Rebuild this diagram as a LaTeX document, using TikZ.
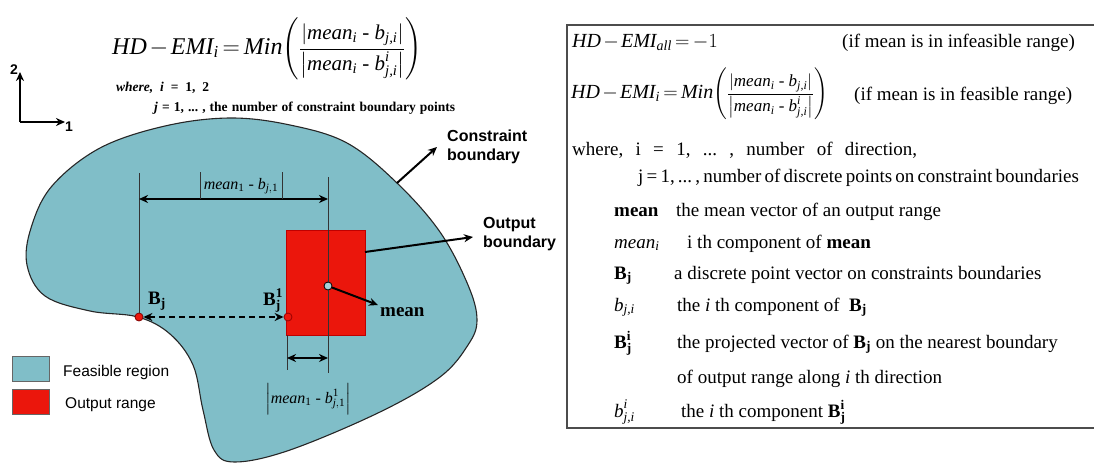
\documentclass[tikz,border=0pt]{standalone}
\usepackage{fix-cm}
\usepackage{amsmath}
\usepackage{fontspec}
\setmainfont{Liberation Serif}
\setsansfont{Liberation Sans}
\usetikzlibrary{arrows.meta}
\definecolor{feas}{RGB}{128,190,200}
\definecolor{outr}{RGB}{235,22,12}
\newcommand{\mi}[1]{\textit{#1}}
\newcommand{\hy}{\text{ - }}
\newcommand{\tightmath}{\medmuskip=2mu\thickmuskip=3mu\relax}
\frenchspacing
\tikzset{
  region/.style={fill=feas, draw=black!85, line width=1.1pt},
  dimline/.style={line width=0.6pt, draw=black!80},
  bigarrow/.style={line width=2pt, -{Stealth[length=9pt,width=8pt]}},
  dblarrow/.style={line width=2pt, {Stealth[length=9pt,width=8pt]}-{Stealth[length=9pt,width=8pt]}},
  sanslbl/.style={font=\sffamily\bfseries\fontsize{16}{19}\selectfont, align=left, inner sep=0pt, anchor=north west},
  legtxt/.style={font=\sffamily\fontsize{15.5}{18}\selectfont, anchor=west, inner sep=0pt},
  rtxt/.style={font=\fontsize{19}{22}\selectfont, anchor=base west, inner sep=0pt},
  dot/.style={circle, minimum size=8pt, inner sep=0pt, line width=0.8pt},
  boxline/.style={line width=1.6pt, draw=black!70},
}
\begin{document}
\begin{tikzpicture}[x=1pt,y=-1pt]
\useasboundingbox (0,0) rectangle (1094,463);
% ---------- feasible region ----------
\draw[region] plot[smooth cycle, tension=0.6] coordinates {
 (138,317) (90,311) (45,296) (27,265) (31,228) (52,186) (100,148) (165,126)
 (230,118) (290,125) (347,143) (397,183) (440,232) (468,285) (477,320)
 (468,345) (440,377) (380,412) (290,450) (235,462) (214,450) (203,410)
 (193,365) (170,334)};
% output range rectangle
\node[fill=outr, draw=red!75!black, line width=0.4pt, minimum width=79pt, minimum height=105pt, inner sep=0pt] (rect) at (325.5,282.5) {};
% dots
\node[dot, fill=outr, draw=red!50!black] (bj) at (139,317) {};
\node[dot, fill=outr, draw=red!60!black] (bj1) at (288,317) {};
\node[dot, fill=feas!70!white, draw=black] (mean) at (328,286) {};
% vertical dimension lines
\coordinate (v1top) at (139,173);
\coordinate (v2top) at (328,177);
\coordinate (v2bot) at (328,373);
\coordinate (v3top) at (287,335);
\coordinate (v3bot) at (287,370);
\draw[dimline] (v1top) -- (bj.north);
\draw[dimline] (v2top) -- (mean.north);
\draw[dimline] (mean.south) -- (v2bot);
\draw[dimline] (v3top) -- (v3bot);
% top dimension arrow
\coordinate (a1l) at (139,199);
\coordinate (a1r) at (328,199);
\draw[dblarrow] (a1l) -- (a1r);
\coordinate (b1t) at (200,172);
\coordinate (b1b) at (200,199);
\coordinate (b2t) at (282,172);
\coordinate (b2b) at (282,199);
\draw[dimline] (b1t) -- (b1b);
\draw[dimline] (b2t) -- (b2b);
\node[font=\fontsize{16}{19}\selectfont, inner sep=0pt] (lab1) at (241,186) {$\mi{mean}_{\textrm{1}}\hy\mi{b}_{\mi{j},\textrm{1}}$};
% bottom dimension arrow
\coordinate (a2l) at (287,358);
\coordinate (a2r) at (328,358);
\draw[dblarrow] (a2l) -- (a2r);
\node[font=\fontsize{16}{19}\selectfont, inner sep=0pt] (lab2) at (308,399) {$\left|\mi{mean}_{\textrm{1}}\hy\mi{b}^{\textrm{1}}_{\mi{j},\textrm{1}}\vphantom{\Big|}\right|$};
% dashed arrow between boundary points
\draw[dblarrow, dash pattern=on 6pt off 4pt] (bj) -- (bj1);
\node[inner sep=0pt, font=\fontsize{19}{22}\selectfont] (bjl) at (157,301) {$\textbf{B}_{\textbf{j}}$};
\node[inner sep=0pt, font=\fontsize{19}{22}\selectfont] (bj1l) at (273,301) {$\textbf{B}_{\textbf{j}}^{\textbf{1}}$};
% mean arrow
\coordinate (meanend) at (378,305);
\draw[bigarrow] (mean) -- (meanend);
\node[font=\bfseries\fontsize{19}{22}\selectfont, anchor=base west, inner sep=0pt] (meanlbl) at (380,316) {mean};
% constraint boundary
\coordinate (cb) at (397,183);
\coordinate (cbe) at (437,147);
\draw[bigarrow] (cb) -- (cbe);
\node[sanslbl] (cbl) at (447,130) {Constraint\\boundary};
% output boundary
\coordinate (ob) at (365,252);
\coordinate (obe) at (473,237);
\draw[bigarrow] (ob) -- (obe);
\node[sanslbl] (obl) at (483,217) {Output\\boundary};
% axes
\coordinate (ax0) at (20,122);
\coordinate (ax2) at (20,72);
\coordinate (ax1) at (65,122);
\draw[line width=2.4pt, -{Stealth[length=9pt,width=8pt]}] (ax0) -- (ax2);
\draw[line width=2.4pt, -{Stealth[length=9pt,width=8pt]}] (ax0) -- (ax1);
\node[font=\sffamily\bfseries\fontsize{14}{16}\selectfont, inner sep=0pt] (ax2l) at (14,70) {2};
\node[font=\sffamily\bfseries\fontsize{14}{16}\selectfont, inner sep=0pt] (ax1l) at (69,127) {1};
% legend
\node[fill=feas, draw=black!60, line width=0.6pt, minimum width=37pt, minimum height=25pt, inner sep=0pt] (lg1) at (30.5,368.5) {};
\node[fill=outr, draw=black!60, line width=0.6pt, minimum width=37pt, minimum height=25pt, inner sep=0pt] (lg2) at (30.5,401.5) {};
\node[legtxt] (lg1t) at (63,372) {Feasible region};
\node[legtxt] (lg2t) at (65,405) {Output range};
% top-left formula
\node[anchor=west, inner sep=0pt, font=\fontsize{24}{28}\selectfont] (f1) at (112,49)
 {\tightmath$\mi{HD}-\mi{EMI}_{\mi{i}}=\mi{Min}\mbox{\fontsize{21}{24}\selectfont\tightmath$\left(\dfrac{\left|\mi{mean}_{\mi{i}}\hy\mi{b}_{\mi{j,i}}\right|}{\left|\mi{mean}_{\mi{i}}\hy\mi{b}^{\mi{i}}_{\mi{j,i}}\right|}\right)$}$};
\node[anchor=base west, inner sep=0pt, font=\bfseries\fontsize{13.5}{15}\selectfont] (w1) at (116,91) {\makebox[93pt][s]{\textit{where, i} = 1, 2}};
\node[anchor=base west, inner sep=0pt, font=\bfseries\fontsize{13.5}{15}\selectfont] (w2) at (154,111) {\makebox[301pt][s]{\textit{j} = 1, ... , the number of constraint boundary points}};
% ---------- right box ----------
\coordinate (bxtl) at (567,25);
\coordinate (bxtr) at (1094,25);
\coordinate (bxbl) at (567,428);
\coordinate (bxbr) at (1094,428);
\draw[boxline] (bxtr) -- (bxtl) -- (bxbl) -- (bxbr);
\node[rtxt, font=\fontsize{20}{24}\selectfont] (r1) at (572,47) {\tightmath$\mi{HD}-\mi{EMI}_{\mi{all}}=-1$};
\node[rtxt] (r1b) at (842,47) {(if mean is in infeasible range)};
\node[anchor=west, inner sep=0pt, font=\fontsize{20}{24}\selectfont] (r2) at (571,94)
 {\tightmath$\mi{HD}-\mi{EMI}_{\mi{i}}=\mi{Min}\mbox{\fontsize{17}{20}\selectfont\tightmath$\left(\dfrac{\left|\mi{mean}_{\mi{i}}\hy\mi{b}_{\mi{j,i}}\right|}{\left|\mi{mean}_{\mi{i}}\hy\mi{b}^{\mi{i}}_{\mi{j,i}}\right|}\right)$}$};
\node[rtxt] (r2b) at (854,100) {(if mean is in feasible range)};
\node[rtxt] (r3) at (572,155) {\makebox[345pt][s]{where, i = 1, ... , number of direction,}};
\node[rtxt] (r4) at (638,182) {\makebox[440pt][s]{j = 1, ... , number of discrete points on constraint boundaries}};
\node[rtxt] (r5a) at (614,216) {\textbf{mean}};
\node[rtxt] (r5b) at (676,216) {the mean vector of an output range};
\node[rtxt] (r6a) at (614,248) {$\mi{mean}_{\mi{i}}$};
\node[rtxt] (r6b) at (687,248) {i th component of \textbf{mean}};
\node[rtxt] (r7a) at (614,279) {$\textbf{B}_{\textbf{j}}$};
\node[rtxt] (r7b) at (674,279) {a discrete point vector on constraints boundaries};
\node[rtxt] (r8a) at (614,311) {$\mi{b}_{\mi{j,i}}$};
\node[rtxt] (r8b) at (677,311) {the \textit{i} th component of \ $\textbf{B}_{\textbf{j}}$};
\node[rtxt] (r9a) at (614,348) {$\textbf{B}^{\textbf{i}}_{\textbf{j}}$};
\node[rtxt] (r9b) at (677,348) {the projected vector of $\textbf{B}_{\textbf{j}}$ on the nearest boundary};
\node[rtxt] (r10) at (677,383) {of output range along \textit{i} th direction};
\node[rtxt] (r11a) at (614,417) {$\mi{b}^{\mi{i}}_{\mi{j,i}}$};
\node[rtxt] (r11b) at (681,417) {the \textit{i} th component $\textbf{B}^{\textbf{i}}_{\textbf{j}}$};
\end{tikzpicture}
\end{document}
